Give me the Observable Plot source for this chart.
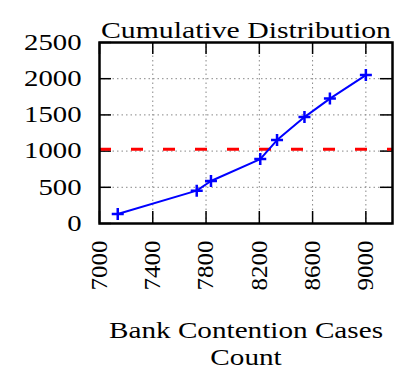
<!DOCTYPE html>
<html>
<head>
<meta charset="utf-8">
<script src="https://cdn.jsdelivr.net/npm/d3@7"></script>
<script src="https://cdn.jsdelivr.net/npm/@observablehq/plot@0.6"></script>
<style>
  html, body { margin: 0; padding: 0; background: white; }
</style>
</head>
<body>
<div id="chart"></div>
<script>
const title = "Cumulative Distribution";
const xLabel = "Bank Contention Cases\nCount";
const counts = [7137, 7730, 7837, 8207, 8333, 8539, 8730, 9000];
const cumulative = [132, 454, 587, 890, 1152, 1470, 1725, 2050];
const threshold = [1024];
const xTicks = [7000, 7400, 7800, 8200, 8600, 9000];
const yTicks = [0, 500, 1000, 1500, 2000, 2500];
const xDomain = [7000, 9200];
const yDomain = [0, 2500];

const data = counts.map((c, i) => ({x: c, y: cumulative[i]}));

const W = 415, H = 382, ML = 99, MR = 23, MT = 42, MB = 159;
const PW = W - ML - MR, PH = H - MT - MB;
const TL = 12;

const plusSymbol = {
  draw(ctx, size) {
    const r = Math.sqrt(size / Math.PI);
    ctx.moveTo(-r, 0); ctx.lineTo(r, 0);
    ctx.moveTo(0, -r); ctx.lineTo(0, r);
  }
};

const font = "'Liberation Serif', 'Times New Roman', serif";

const svg = Plot.plot({
  width: W, height: H,
  marginLeft: ML, marginRight: MR, marginTop: MT, marginBottom: MB,
  style: {fontFamily: font, background: "white", color: "black"},
  x: {domain: xDomain},
  y: {domain: yDomain},
  marks: [
    Plot.gridX(xTicks, {stroke: "#888", strokeOpacity: 1, strokeWidth: 1, strokeDasharray: "1.5,3"}),
    Plot.gridY(yTicks, {stroke: "#888", strokeOpacity: 1, strokeWidth: 1, strokeDasharray: "1.5,3"}),
    Plot.tickY(yTicks, {y: d => d, insetRight: PW - TL, stroke: "black", strokeWidth: 1.5}),
    Plot.tickY(yTicks, {y: d => d, insetLeft: PW - TL, stroke: "black", strokeWidth: 1.5}),
    Plot.tickX(xTicks, {x: d => d, insetTop: PH - TL, stroke: "black", strokeWidth: 1.5}),
    Plot.tickX(xTicks, {x: d => d, insetBottom: PH - TL, stroke: "black", strokeWidth: 1.5}),
    Plot.axisY(yTicks, {tickSize: 0, tickPadding: 18, fontSize: 23, label: null, fill: "black", tickFormat: d => String(d)}),
    Plot.axisX(xTicks, {tickSize: 0, tickPadding: 17, tickRotate: -90, fontSize: 23, label: null, fill: "black", tickFormat: d => String(d)}),
    Plot.ruleY(threshold, {stroke: "#ff0000", strokeWidth: 3, strokeDasharray: "12,20"}),
    Plot.line(data, {x: "x", y: "y", stroke: "#0000ff", strokeWidth: 2}),
    Plot.dot(data, {x: "x", y: "y", symbol: plusSymbol, r: 6, stroke: "#0000ff", strokeWidth: 2.5, fill: "none"}),
    Plot.frame({stroke: "black", strokeWidth: 2.5}),
    Plot.text([title], {frameAnchor: "top", dy: -5, lineAnchor: "bottom", fontSize: 24, fill: "black"}),
    Plot.text([xLabel], {frameAnchor: "bottom", dy: 96, lineAnchor: "top", fontSize: 23, lineHeight: 1.16, fill: "black"})
  ]
});

function stretchEl(t, s) {
  const tr = t.getAttribute("transform") || "";
  t.setAttribute("transform", `${tr} scale(${s},1)`);
}
svg.querySelectorAll('g[aria-label="y-axis tick label"] text').forEach(t => stretchEl(t, 1.25));
svg.querySelectorAll('g[aria-label="x-axis tick label"] text').forEach(t => stretchEl(t, 1.09));
svg.querySelectorAll('text').forEach(t => {
  const c = t.textContent;
  if (c === title) stretchEl(t, 1.24);
  else if (c.startsWith("Bank")) stretchEl(t, 1.27);
});

document.getElementById("chart").appendChild(svg);
</script>
</body>
</html>
